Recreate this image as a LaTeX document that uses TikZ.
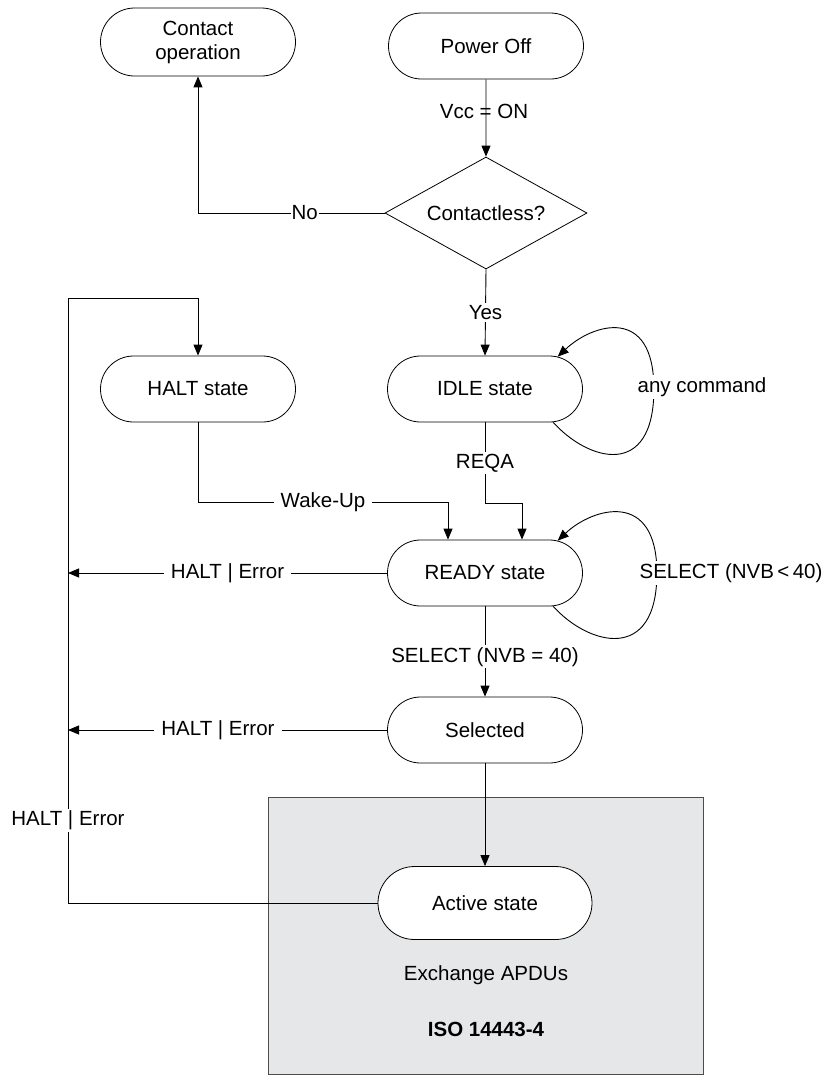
\documentclass[tikz,border=0pt]{standalone}
\usepackage{fontspec}
\setmainfont{Liberation Sans}
\usetikzlibrary{shapes.misc,shapes.geometric,arrows.meta,calc}
\definecolor{isogray}{RGB}{230,231,232}
\tikzset{
  state/.style={rounded rectangle, draw, fill=white, line width=0.8pt,
    minimum width=195pt, minimum height=66pt, inner sep=0pt},
  decide/.style={diamond, draw, fill=white, line width=0.8pt, aspect=1.8,
    minimum width=202pt, minimum height=112pt, inner sep=0pt},
  arr/.style={line width=0.9pt, -{Triangle[length=11pt,width=9pt]}},
  lbl/.style={fill=white, inner xsep=7pt, inner ysep=2pt},
}
\begin{document}
\begin{tikzpicture}[x=1pt,y=-1pt,font=\fontsize{20.5}{24}\selectfont]
\useasboundingbox (0,0) rectangle (833,1077);

% ISO 14443-4 area
\draw[fill=isogray, draw=black!70, line width=0.8pt] (268,797) rectangle (703,1074);

\node[state, minimum height=68pt, align=center] (contact) at (198,42) {Contact\\operation};
\node[state] (poweroff) at (486,46) {Power Off};
\node[decide] (contactless) at (486,213) {Contactless?};
\node[state] (halt) at (198,389) {HALT state};
\node[state] (idle) at (485,389) {IDLE state};
\node[state] (ready) at (485,573) {READY state};
\node[state] (selected) at (485,730) {Selected};
\node[state, minimum width=214pt, minimum height=73pt] (active) at (485,903) {Active state};
\node (apdu) at (486,975) {Exchange APDUs};
\node (iso) at (486,1029) {\textbf{ISO 14443-4}};

\coordinate (bus) at (68,298);

\draw[arr] (poweroff) -- node[inner sep=0pt, pos=0.42, xshift=-2pt] {Vcc = ON} (contactless);
\draw[arr] (contactless.west) -| node[lbl, inner xsep=1pt, pos=0.214] {No} (contact.south);
\draw[arr] (contactless.south) -- node[lbl] {Yes} (idle.north);
\draw[arr] (bus) -| (halt.north);

% self loops
\draw[arr] (idle.-26) .. controls +(35,39) and +(0,91) .. ([xshift=71pt]idle.east)
  .. controls +(0,-84) and +(35,-33) .. (idle.24);
\node[lbl, inner xsep=1pt] (anycmd) at (702,387) {any command};
\draw[arr] (ready.-26) .. controls +(35,39) and +(0,91) .. ([xshift=74pt]ready.east)
  .. controls +(0,-84) and +(35,-33) .. (ready.24);
\node[lbl, inner xsep=1pt] (selectloop) at (731,573) {SELECT (NVB\,<\,40)};

\draw[arr] (halt.south) |- node[lbl, pos=0.75] {Wake-Up} ($(ready.north)+(-37,-37)$)
  -- ($(ready.north)+(-37,0)$);
\draw[arr] (idle.south) -- node[lbl] {REQA} ++(0,81) -| ($(ready.north)+(37,0)$);

\draw[arr] (ready.west) -- node[lbl] {HALT | Error} (ready.west -| bus);
\draw[arr] (ready.south) -- node[lbl, pos=0.56] {SELECT (NVB = 40)} (selected.north);
\draw[arr] (selected.west) -- node[lbl, pos=0.53] {HALT | Error} (selected.west -| bus);
\draw[arr] (selected.south) -- (active.north);
\draw[line width=0.9pt] (active.west) -| node[lbl, pos=0.568] {HALT | Error} (bus);
\end{tikzpicture}
\end{document}
